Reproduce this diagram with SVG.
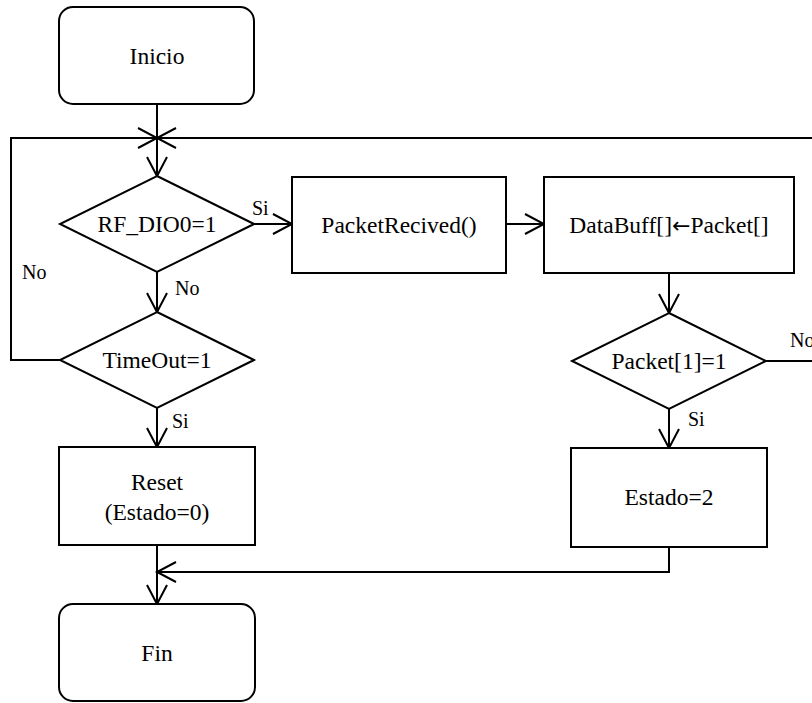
<svg xmlns="http://www.w3.org/2000/svg" width="812" height="703" viewBox="0 0 812 703">
  <style>
    .shape { fill: #ffffff; stroke: #000000; stroke-width: 2; }
    .wire { fill: none; stroke: #000000; stroke-width: 2; }
    text { font-family: 'Liberation Serif', 'Times New Roman', 'DejaVu Serif', serif; fill: #000000; }
    .txt { font-size: 23.5px; text-anchor: middle; }
    .lbl { font-size: 20px; }
    .arr { font-family: 'DejaVu Sans', sans-serif; font-size: 22px; }
  </style>
  <defs>
    <marker id="openArrow" markerUnits="userSpaceOnUse" markerWidth="24" markerHeight="24" refX="19" refY="10" orient="auto" overflow="visible">
      <path d="M0,0 L19,10 L0,20" fill="none" stroke="#000000" stroke-width="2"/>
    </marker>
  </defs>
  <rect width="812" height="703" fill="#ffffff"/>

  <!-- connectors -->
  <g id="connectors">
    <path class="wire" d="M157,104 V176" marker-end="url(#openArrow)"/>
    <path class="wire" d="M60,360 H11 V138 H157" marker-end="url(#openArrow)"/>
    <path class="wire" d="M766,361 H830 V138 H157" marker-end="url(#openArrow)"/>
    <path class="wire" d="M254,224 H292" marker-end="url(#openArrow)"/>
    <path class="wire" d="M506,224 H544" marker-end="url(#openArrow)"/>
    <path class="wire" d="M157,272 V312" marker-end="url(#openArrow)"/>
    <path class="wire" d="M157,408 V447" marker-end="url(#openArrow)"/>
    <path class="wire" d="M669,273 V313" marker-end="url(#openArrow)"/>
    <path class="wire" d="M669,409 V448" marker-end="url(#openArrow)"/>
    <path class="wire" d="M669,547 V572 H157" marker-end="url(#openArrow)"/>
    <path class="wire" d="M157,545 V604" marker-end="url(#openArrow)"/>
    <text class="lbl" x="22" y="279">No</text>
    <text class="lbl" x="175" y="295">No</text>
    <text class="lbl" x="252" y="215">Si</text>
    <text class="lbl" x="172" y="428">Si</text>
    <text class="lbl" x="688" y="426">Si</text>
    <text class="lbl" x="790" y="347">No</text>
  </g>

  <g id="inicio">
    <rect class="shape" x="59" y="7" width="195" height="97" rx="14"/>
    <text class="txt" x="157" y="64">Inicio</text>
  </g>

  <g id="rf-dio0">
    <polygon class="shape" points="157,176 254,224 157,272 60,224"/>
    <text class="txt" x="157" y="232">RF_DIO0=1</text>
  </g>

  <g id="packet-recived">
    <rect class="shape" x="292" y="177" width="214" height="96"/>
    <text class="txt" x="399" y="233">PacketRecived()</text>
  </g>

  <g id="databuff">
    <rect class="shape" x="544" y="177" width="250" height="96"/>
    <text class="txt" x="669" y="233">DataBuff[]<tspan class="arr">←</tspan>Packet[]</text>
  </g>

  <g id="timeout">
    <polygon class="shape" points="157,312 254,360 157,408 60,360"/>
    <text class="txt" x="157" y="368">TimeOut=1</text>
  </g>

  <g id="packet-check">
    <polygon class="shape" points="669,313 766,361 669,409 572,361"/>
    <text class="txt" x="669" y="369">Packet[1]=1</text>
  </g>

  <g id="reset">
    <rect class="shape" x="59" y="447" width="196" height="98"/>
    <text class="txt" x="157" y="490">Reset</text>
    <text class="txt" x="157" y="520">(Estado=0)</text>
  </g>

  <g id="estado2">
    <rect class="shape" x="571" y="448" width="196" height="99"/>
    <text class="txt" x="669" y="505">Estado=2</text>
  </g>

  <g id="fin">
    <rect class="shape" x="59" y="604" width="196" height="97" rx="14"/>
    <text class="txt" x="157" y="661">Fin</text>
  </g>
</svg>
